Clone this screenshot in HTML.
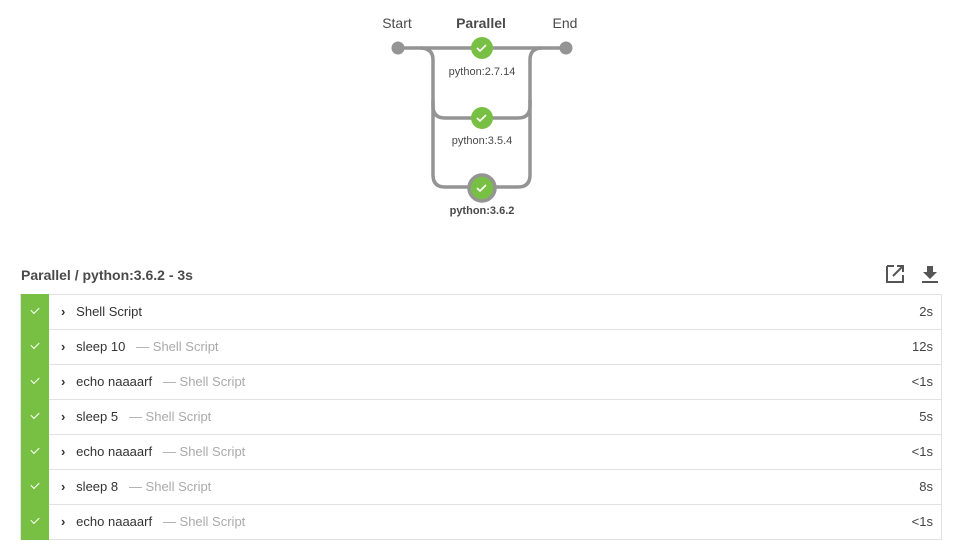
<!DOCTYPE html>
<html><head><style>
body{margin:0;width:961px;height:551px;background:#fff;font-family:"Liberation Sans",sans-serif;position:relative;overflow:hidden}
.t{position:absolute;font-size:14px;color:#4a4a4a}
.row{position:absolute;left:20px;width:922px;height:36px;border:1px solid #e2e2e2;box-sizing:border-box;background:#fff}
.row .g{position:absolute;left:0;top:-1px;width:28px;height:36px;background:#78c043}
.row .g:after{content:"";position:absolute;left:10px;top:13px;width:7px;height:4px;border-left:1.5px solid #fff;border-bottom:1.5px solid #fff;transform:rotate(-45deg)}
.row .n{position:absolute;left:40px;top:9px;font-size:13px;color:#333}
.row .n b{font-weight:bold}
.row .n span{color:#aaa}
.row .d{position:absolute;right:8px;top:9px;font-size:13px;color:#444}
</style></head><body>
<svg width="961" height="240" style="position:absolute;left:0;top:0" font-family="Liberation Sans, sans-serif">
<g fill="none" stroke="#949494" stroke-width="3.5">
<line x1="398" y1="48" x2="566" y2="48"/>
<path d="M420 48 Q433 48 433 60 V106 Q433 118 445 118 H518 Q530 118 530 106 V60 Q530 48 542 48"/>
<path d="M433 100 V175 Q433 187 445 187 H518 Q530 187 530 175 V100"/>
</g>
<circle cx="398" cy="48" r="6.5" fill="#949494"/>
<circle cx="566" cy="48" r="6.5" fill="#949494"/>
<g fill="#78c043">
<circle cx="482" cy="48" r="11"/><circle cx="482" cy="118" r="11"/>
<circle cx="482" cy="188" r="13" stroke="#949494" stroke-width="3.5"/>
</g>
<g fill="none" stroke="#fff" stroke-width="1.6">
<path d="M477 48 l3 3 l6 -6"/><path d="M477 118 l3 3 l6 -6"/><path d="M477 188 l3 3 l6 -6"/>
</g>
<g font-size="14" fill="#4a4a4a" text-anchor="middle">
<text x="397" y="28">Start</text><text x="481" y="28" font-weight="bold">Parallel</text><text x="565" y="28">End</text>
</g>
<g font-size="11" fill="#4a4a4a" text-anchor="middle">
<text x="482" y="75">python:2.7.14</text><text x="482" y="144">python:3.5.4</text><text x="482" y="214" font-weight="bold">python:3.6.2</text>
</g>
</svg>
<div class="t" style="left:21px;top:267px;font-weight:bold;font-size:14px">Parallel / python:3.6.2 - 3s</div>
<svg width="60" height="24" style="position:absolute;left:884px;top:263px">
<path d="M3 3 H10 M3 3 V19 H19 V12" fill="none" stroke="#555" stroke-width="2"/>
<path d="M13 3 H19 V9 M19 3 L9 13" fill="none" stroke="#555" stroke-width="2"/>
<path d="M43 3 H49 V9 H53 L46 16 L39 9 H43 Z" fill="#555"/><rect x="38" y="18" width="16" height="2" fill="#555"/>
</svg>
<div class="row" style="top:294px"><div class="g"></div><div class="n"><b>›</b>&nbsp;&nbsp; Shell Script</div><div class="d">2s</div></div>
<div class="row" style="top:329px"><div class="g"></div><div class="n"><b>›</b>&nbsp;&nbsp; sleep 10 &nbsp;&nbsp;<span>— Shell Script</span></div><div class="d">12s</div></div>
<div class="row" style="top:364px"><div class="g"></div><div class="n"><b>›</b>&nbsp;&nbsp; echo naaaarf &nbsp;&nbsp;<span>— Shell Script</span></div><div class="d">&lt;1s</div></div>
<div class="row" style="top:399px"><div class="g"></div><div class="n"><b>›</b>&nbsp;&nbsp; sleep 5 &nbsp;&nbsp;<span>— Shell Script</span></div><div class="d">5s</div></div>
<div class="row" style="top:434px"><div class="g"></div><div class="n"><b>›</b>&nbsp;&nbsp; echo naaaarf &nbsp;&nbsp;<span>— Shell Script</span></div><div class="d">&lt;1s</div></div>
<div class="row" style="top:469px"><div class="g"></div><div class="n"><b>›</b>&nbsp;&nbsp; sleep 8 &nbsp;&nbsp;<span>— Shell Script</span></div><div class="d">8s</div></div>
<div class="row" style="top:504px"><div class="g"></div><div class="n"><b>›</b>&nbsp;&nbsp; echo naaaarf &nbsp;&nbsp;<span>— Shell Script</span></div><div class="d">&lt;1s</div></div>
</body></html>
